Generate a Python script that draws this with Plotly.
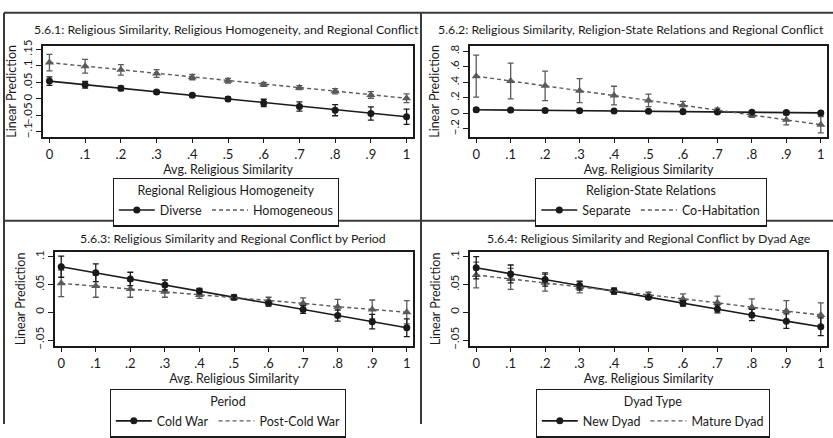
import plotly.graph_objects as go

W, H = 833, 438

# ---------------- data ----------------
x_vals = [0, 0.1, 0.2, 0.3, 0.4, 0.5, 0.6, 0.7, 0.8, 0.9, 1.0]
x_ticktext = ["0", ".1", ".2", ".3", ".4", ".5", ".6", ".7", ".8", ".9", "1"]

# Panel 1
p1_diverse = [0.054, 0.043, 0.032, 0.021, 0.011, 0.000, -0.012, -0.023, -0.034, -0.044, -0.054]
p1_diverse_ci = [0.013, 0.010, 0.007, 0.005, 0.005, 0.006, 0.011, 0.014, 0.017, 0.020, 0.023]
p1_homog = [0.110, 0.099, 0.088, 0.077, 0.066, 0.055, 0.044, 0.034, 0.023, 0.012, 0.002]
p1_homog_ci = [0.025, 0.021, 0.016, 0.012, 0.008, 0.007, 0.006, 0.006, 0.008, 0.010, 0.013]
p1_yticks = [-0.1, -0.05, 0, 0.05, 0.1, 0.15]
p1_yticktext = ["\u2212.1", "\u2212.05", "0", ".05", ".1", ".15"]

# Panel 2
p2_separate = [0.045, 0.041, 0.037, 0.033, 0.029, 0.025, 0.021, 0.017, 0.013, 0.009, 0.005]
p2_separate_ci = [0.022, 0.020, 0.018, 0.016, 0.014, 0.013, 0.013, 0.014, 0.016, 0.018, 0.020]
p2_cohab = [0.478, 0.416, 0.353, 0.291, 0.228, 0.166, 0.103, 0.041, -0.022, -0.084, -0.147]
p2_cohab_ci = [0.270, 0.230, 0.190, 0.155, 0.120, 0.080, 0.050, 0.025, 0.030, 0.065, 0.105]
p2_yticks = [-0.2, 0, 0.2, 0.4, 0.6, 0.8]
p2_yticktext = ["\u2212.2", "0", ".2", ".4", ".6", ".8"]

# Panel 3
p3_cold = [0.082, 0.071, 0.060, 0.049, 0.038, 0.027, 0.016, 0.005, -0.006, -0.017, -0.028]
p3_cold_ci = [0.019, 0.016, 0.012, 0.009, 0.005, 0.004, 0.005, 0.007, 0.010, 0.013, 0.016]
p3_post = [0.052, 0.047, 0.042, 0.037, 0.031, 0.026, 0.021, 0.016, 0.010, 0.005, 0.000]
p3_post_ci = [0.024, 0.020, 0.015, 0.010, 0.006, 0.004, 0.006, 0.010, 0.013, 0.017, 0.021]
p34_yticks = [-0.05, 0, 0.05, 0.1]
p34_yticktext = ["\u2212.05", "0", ".05", ".1"]

# Panel 4
p4_new = [0.080, 0.069, 0.059, 0.048, 0.038, 0.027, 0.016, 0.006, -0.005, -0.016, -0.026]
p4_new_ci = [0.020, 0.016, 0.012, 0.008, 0.005, 0.004, 0.005, 0.007, 0.010, 0.013, 0.016]
p4_mature = [0.067, 0.060, 0.053, 0.045, 0.038, 0.031, 0.024, 0.017, 0.009, 0.002, -0.005]
p4_mature_ci = [0.023, 0.019, 0.015, 0.010, 0.006, 0.005, 0.009, 0.012, 0.015, 0.019, 0.022]

titles = [
    "5.6.1: Religious Similarity, Religious Homogeneity, and Regional Conflict",
    "5.6.2: Religious Similarity, Religion-State Relations and Regional Conflict",
    "5.6.3: Religious Similarity and Regional Conflict by Period",
    "5.6.4: Religious Similarity and Regional Conflict by Dyad Age",
]
legend_titles = ["Regional Religious Homogeneity", "Religion-State Relations", "Period", "Dyad Type"]
series_names = [("Diverse", "Homogeneous"), ("Separate", "Co-Habitation"),
                ("Cold War", "Post-Cold War"), ("New Dyad", "Mature Dyad")]
x_title = "Avg. Religious Similarity"
y_title = "Linear Prediction"

# ---------------- layout helpers ----------------
FONT = "Lato, 'Open Sans', sans-serif"
BLACK = "#1a1a1a"
GRAY = "#5a5a5a"

def px_x(a, b):
    return [a / W, b / W]

def px_y(top, bottom):
    return [1 - bottom / H, 1 - top / H]

panels = [
    dict(xd=px_x(43, 413), yd=px_y(42, 137), yr=[-0.1145, 0.160], yt=p1_yticks, ytt=p1_yticktext,
         s1=(p1_diverse, p1_diverse_ci), s2=(p1_homog, p1_homog_ci),
         title_xy=(226, 25), leg_xy=(226, 180), ystand=1),
    dict(xd=px_x(470, 827), yd=px_y(42, 137), yr=[-0.302, 0.865], yt=p2_yticks, ytt=p2_yticktext,
         s1=(p2_separate, p2_separate_ci), s2=(p2_cohab, p2_cohab_ci),
         title_xy=(631, 25), leg_xy=(651, 180), ystand=5),
    dict(xd=px_x(55, 413), yd=px_y(258, 356), yr=[-0.0603, 0.108], yt=p34_yticks, ytt=p34_yticktext,
         s1=(p3_cold, p3_cold_ci), s2=(p3_post, p3_post_ci),
         title_xy=(233, 244), leg_xy=(228, 401), ystand=4),
    dict(xd=px_x(470, 827), yd=px_y(258, 356), yr=[-0.0603, 0.108], yt=p34_yticks, ytt=p34_yticktext,
         s1=(p4_new, p4_new_ci), s2=(p4_mature, p4_mature_ci),
         title_xy=(649, 244), leg_xy=(653, 401), ystand=4),
]

fig = go.Figure()
annotations = []
layout_upd = {}

for i, p in enumerate(panels):
    k = "" if i == 0 else str(i + 1)
    xa, ya = "x" + k, "y" + k
    leg = "legend" + k
    n1, n2 = series_names[i]
    y1, c1 = p["s1"]
    y2, c2 = p["s2"]

    fig.add_trace(go.Scatter(
        x=x_vals, y=y2, mode="markers", xaxis=xa, yaxis=ya, showlegend=False,
        marker=dict(symbol="triangle-up", size=8, color=GRAY),
        error_y=dict(type="data", array=c2, color=GRAY, thickness=1.3, width=3),
    ))
    fig.add_trace(go.Scatter(
        x=x_vals, y=y1, mode="lines+markers", name=n1, xaxis=xa, yaxis=ya, legend=leg,
        line=dict(color=BLACK, width=1.6),
        marker=dict(symbol="circle", size=7, color=BLACK),
        error_y=dict(type="data", array=c1, color=BLACK, thickness=1.3, width=3),
    ))
    fig.add_trace(go.Scatter(
        x=x_vals, y=y2, mode="lines", name=n2, xaxis=xa, yaxis=ya, legend=leg,
        line=dict(color=GRAY, width=1.4, dash="4px,3px"),
    ))

    layout_upd["xaxis" + k] = dict(
        domain=p["xd"], range=[-0.018, 1.018], anchor=ya,
        tickvals=x_vals, ticktext=x_ticktext, ticks="outside", ticklen=5, tickwidth=1.2,
        tickcolor=BLACK, showline=True, linecolor=BLACK, linewidth=1.5, mirror=True,
        showgrid=False, zeroline=False,
        tickfont=dict(family=FONT, size=13, color=BLACK),
        title=dict(text=x_title, font=dict(family=FONT, size=12.5, color=BLACK), standoff=4),
    )
    layout_upd["yaxis" + k] = dict(
        domain=p["yd"], range=p["yr"], anchor=xa,
        tickvals=p["yt"], ticktext=p["ytt"], tickangle=-90, ticks="outside", ticklen=5,
        tickwidth=1.2, tickcolor=BLACK, showline=True, linecolor=BLACK, linewidth=1.5,
        mirror=True, showgrid=False, zeroline=False,
        tickfont=dict(family=FONT, size=11.5, color=BLACK),
        title=dict(text=y_title, font=dict(family=FONT, size=12.5, color=BLACK), standoff=p["ystand"]),
    )
    layout_upd[leg] = dict(
        x=p["leg_xy"][0] / W, y=1 - p["leg_xy"][1] / H, xanchor="center", yanchor="top",
        xref="paper", yref="paper", orientation="h",
        title=dict(text=legend_titles[i], side="top center",
                   font=dict(family=FONT, size=12.5, color=BLACK)),
        font=dict(family=FONT, size=12.5, color=BLACK),
        bordercolor=BLACK, borderwidth=1.3, bgcolor="white",
        tracegroupgap=0, itemwidth=36,
    )
    annotations.append(dict(
        text=titles[i], x=p["title_xy"][0] / W, y=1 - p["title_xy"][1] / H,
        xref="paper", yref="paper", xanchor="center", yanchor="middle", showarrow=False,
        font=dict(family=FONT, size=12.3, color=BLACK),
    ))

FR = "#3a3a3a"
shapes = [
    dict(type="line", xref="paper", yref="paper", x0=4 / W, x1=1, y0=1 - 7 / H, y1=1 - 7 / H,
         line=dict(color=FR, width=2)),
    dict(type="line", xref="paper", yref="paper", x0=4 / W, x1=4 / W, y0=0, y1=1 - 7 / H,
         line=dict(color=FR, width=2)),
    dict(type="line", xref="paper", yref="paper", x0=421 / W, x1=421 / W, y0=0, y1=1 - 7 / H,
         line=dict(color=FR, width=2)),
    dict(type="line", xref="paper", yref="paper", x0=4 / W, x1=1, y0=1 - 225 / H, y1=1 - 225 / H,
         line=dict(color=FR, width=2)),
]

fig.update_layout(
    width=W, height=H, margin=dict(l=0, r=0, t=0, b=0),
    paper_bgcolor="white", plot_bgcolor="white",
    font=dict(family=FONT, size=12, color=BLACK),
    annotations=annotations, shapes=shapes,
    **layout_upd,
)

fig.write_html("out.html", config={"displayModeBar": False},
               post_script="document.body.style.margin='0';document.body.style.overflow='hidden';")
